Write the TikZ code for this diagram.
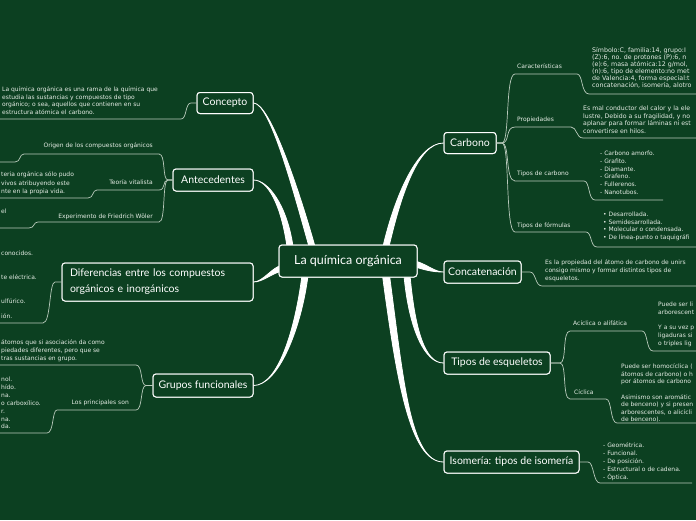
\documentclass[tikz,border=0pt]{standalone}
\usepackage{fontspec}
\setmainfont{DejaVu Sans}
\newfontfamily\handfont{Lato}
\usetikzlibrary{calc}
\definecolor{bg}{RGB}{12,64,33}
\definecolor{txt}{RGB}{228,236,228}
\definecolor{subc}{RGB}{185,202,188}
\newcommand\taper[5]{\filldraw[white,line width=0.8pt,line join=round] ($(#1)+(#2)$) .. controls ($(#3)+(#2)$) and (#4) .. (#5) .. controls (#4) and ($(#3)-(#2)$) .. ($(#1)-(#2)$) -- cycle;}
\begin{document}
\begin{tikzpicture}[x=1pt,y=-1pt,
  box/.style={draw=white, line width=1pt, fill=bg, rounded corners=3pt, text=white,
    font=\handfont\fontsize{10.5}{16}\selectfont, inner sep=0pt},
  lbl/.style={text=txt, font=\fontsize{6}{7.4}\selectfont, inner sep=0pt},
  blk/.style={lbl, align=left},
  subl/.style={draw=subc, line width=0.7pt},
]
\fill[bg] (0,0) rectangle (696,520);
\useasboundingbox (0,0) rectangle (696,520);
\clip (0,0) rectangle (696,520);

% nodes (placed first for anchors)
\node[box, minimum width=138pt, minimum height=32pt, font=\handfont\fontsize{12.5}{15}\selectfont] (main) at (348,261) {La química orgánica};
\node[box, minimum width=56pt, minimum height=21pt] (concepto) at (225,103) {Concepto};
\node[box, minimum width=80pt, minimum height=22pt] (antec) at (213,180) {Antecedentes};
\node[box, text width=175pt, inner xsep=8pt, minimum height=38pt, align=left] (dif) at (157.5,282) {Diferencias entre los compuestos\\orgánicos e inorgánicos};
\node[box, minimum width=100pt, minimum height=23pt] (grupos) at (203,385.5) {Grupos funcionales};
\node[box, minimum width=52pt, minimum height=21pt] (carbono) at (470,143) {Carbono};
\node[box, minimum width=77pt, minimum height=22pt] (concat) at (482.5,272) {Concatenación};
\node[box, minimum width=106pt, minimum height=22pt] (esq) at (497,363) {Tipos de esqueletos};
\node[box, minimum width=135pt, minimum height=22pt] (iso) at (511.5,462) {Isomería: tipos de isomería};

% main tapered connectors
\coordinate (s1) at ($(main.north)+(-36,2)$);
\coordinate (s2) at ($(main.north)+(-58,2)$);
\coordinate (s3) at ($(main.west)+(4,7)$);
\coordinate (s4) at ($(main.south)+(-43,-2)$);
\coordinate (s5) at ($(main.north)+(38,2)$);
\coordinate (s6) at ($(main.east)+(-2,3)$);
\coordinate (s7) at ($(main.south)+(59,-2)$);
\coordinate (s8) at ($(main.south)+(38,-2)$);
\taper{s1}{3,0}{296,190}{270,103}{concepto.east}
\taper{s2}{3,0}{284,205}{268,180}{antec.east}
\taper{s3}{0,3}{272,270}{263,282}{dif.east}
\taper{s4}{3,0}{298,330}{278,385.5}{grupos.east}
\taper{s5}{3,0}{398,195}{418,143}{carbono.west}
\taper{s6}{0,3}{428,268}{435,272}{concat.west}
\taper{s7}{3,0}{412,330}{425,363}{esq.west}
\taper{s8}{3.5,0}{400,380}{410,462}{iso.west}

% redraw boxes on top of the connectors
\node[box, minimum width=138pt, minimum height=32pt, font=\handfont\fontsize{12.5}{15}\selectfont] at (348,261) {La química orgánica};
\node[box, minimum width=56pt, minimum height=21pt] at (225,103) {Concepto};
\node[box, minimum width=80pt, minimum height=22pt] at (213,180) {Antecedentes};
\node[box, text width=175pt, inner xsep=8pt, minimum height=38pt, align=left] at (157.5,282) {Diferencias entre los compuestos\\orgánicos e inorgánicos};
\node[box, minimum width=100pt, minimum height=23pt] at (203,385.5) {Grupos funcionales};
\node[box, minimum width=52pt, minimum height=21pt] at (470,143) {Carbono};
\node[box, minimum width=77pt, minimum height=22pt] at (482.5,272) {Concatenación};
\node[box, minimum width=106pt, minimum height=22pt] at (497,363) {Tipos de esqueletos};
\node[box, minimum width=135pt, minimum height=22pt] at (511.5,462) {Isomería: tipos de isomería};

% ---------- Carbono ----------
\draw[subl] (carbono.east) -- (502,143) .. controls (510,143) and (505,74) .. (515,74) -- (577,74) .. controls (583,74) and (581,94) .. (589,94) -- (700,94);
\draw[subl] (carbono.east) -- (502,143) .. controls (510,143) and (505,127) .. (515,127) -- (571,127) .. controls (577,127) and (576,138) .. (583,138) -- (700,138);
\draw[subl] (carbono.east) -- (502,143) .. controls (510,143) and (505,181) .. (515,181) -- (584,181) .. controls (590,181) and (588,200) .. (595,200) -- (663,200);
\draw[subl] (carbono.east) -- (502,143) .. controls (510,143) and (505,232) .. (515,232) -- (586,232) .. controls (592,232) and (590,247) .. (597,247) -- (700,247);
\node[lbl, anchor=base west] (carac) at (517,68.7) {Características};
\node[lbl, anchor=base west] (prop) at (517,121.7) {Propiedades};
\node[lbl, anchor=base west] (tcarb) at (517,175.7) {Tipos de carbono};
\node[lbl, anchor=base west] (tform) at (517,227.7) {Tipos de fórmulas};
\node[blk, anchor=north west, font=\fontsize{6.3}{7}\selectfont] (caractxt) at (592,47.5) {Símbolo:C, familia:14, grupo:I\\(Z):6, no. de protones (P):6, n\\(e):6, masa atómica:12 g/mol,\\(n):6, tipo de elemento:no met\\de Valencia:4, forma especial:t\\concatenación, isomería, alotro};
\node[blk, anchor=north west, font=\fontsize{6.2}{7.5}\selectfont] (proptxt) at (583,105.8) {Es mal conductor del calor y la ele\\lustre, Debido a su fragilidad, y no\\aplanar para formar láminas ni est\\convertirse en hilos.};
\node[blk, anchor=north west, font=\fontsize{6}{7.8}\selectfont] (tcarbtxt) at (600,150.8) {- Carbono amorfo.\\- Grafito.\\- Diamante.\\- Grafeno.\\- Fullerenos.\\- Nanotubos.};
\node[blk, anchor=north west, font=\fontsize{6}{7.6}\selectfont] (tformtxt) at (603,211.8) {• Desarrollada.\\• Semidesarrollada.\\• Molecular o condensada.\\• De línea-punto o taquigráfi};

% ---------- Concatenación ----------
\draw[subl] (concat.east) -- (530,272) .. controls (536,272) and (535,286) .. (542,286) -- (700,286);
\node[blk, anchor=north west, font=\fontsize{6}{8}\selectfont] (concattxt) at (545,259.8) {Es la propiedad del átomo de carbono de unirs\\consigo mismo y formar distintos tipos de\\esqueletos.};

% ---------- Tipos de esqueletos ----------
\draw[subl] (esq.east) -- (560,363) .. controls (567,363) and (562,331) .. (570,331) -- (642,331) .. controls (648,331) and (646,351) .. (653,351) -- (700,351);
\draw[subl] (esq.east) -- (560,363) .. controls (567,363) and (562,399) .. (570,399) -- (606,399) .. controls (612,399) and (610,423) .. (617,423) -- (700,423);
\node[lbl, anchor=base west] (acic) at (573,325.7) {Acíclica o alifática};
\node[lbl, anchor=base west] (cicl) at (574,394.7) {Cíclica};
\node[blk, anchor=north west, font=\fontsize{6}{7.7}\selectfont] (acictxt) at (658,301.8) {Puede ser li\\arborescent\\[7.7pt]Y a su vez p\\ligaduras si\\o triples lig};
\node[blk, anchor=north west, font=\fontsize{6}{7.55}\selectfont] (cicltxt) at (621,363.8) {Puede ser homocíclica (\\átomos de carbono) o h\\por átomos de carbono\\[7.55pt]Asimismo son aromátic\\de benceno) y si presen\\arborescentes, o alicícli\\de benceno).};

% ---------- Isomería ----------
\draw[subl] (iso.east) -- (588,462) .. controls (594,462) and (593,483) .. (600,483) -- (692,483);
\node[blk, anchor=north west, font=\fontsize{6}{8}\selectfont] (isotxt) at (603,442.8) {- Geométrica.\\- Funcional.\\- De posición.\\- Estructural o de cadena.\\- Óptica.};

% ---------- Concepto ----------
\draw[subl] (concepto.west) -- (191,103) .. controls (185,103) and (187,119) .. (181,119) -- (-5,119);
\node[blk, anchor=north west, font=\fontsize{6}{7.4}\selectfont] (conctxt) at (2,86.8) {La química orgánica es una rama de la química que\\estudia las sustancias y compuestos de tipo\\orgánico; o sea, aquellos que contienen en su\\estructura atómica el carbono.};

% ---------- Antecedentes ----------
\draw[subl] (antec.west) -- (168,180) .. controls (162,180) and (166,154) .. (159,154) -- (24,154) .. controls (19,154) and (21,162) .. (15,162) -- (-5,162);
\draw[subl] (antec.west) -- (168,180) .. controls (162,180) and (166,190) .. (159,190) -- (97,190) .. controls (92,190) and (94,198) .. (88,198) -- (-5,198);
\draw[subl] (antec.west) -- (168,180) .. controls (162,180) and (166,222) .. (159,222) -- (38,222) .. controls (33,222) and (35,228) .. (29,228) -- (-5,228);
\node[lbl, anchor=base east] (origen) at (153,147.7) {Origen de los compuestos orgánicos};
\node[lbl, anchor=base east] (teoria) at (153,184.7) {Teoría vitalista};
\node[lbl, anchor=base east] (exper) at (153,218.7) {Experimento de Friedrich Wöler};
\node[blk, anchor=north west, font=\fontsize{6}{8.3}\selectfont] (teortxt) at (1,171.8) {teria orgánica sólo pudo\\vivos atribuyendo este\\nte en la propia vida.};
\node[lbl, anchor=base west] (expertxt) at (1,213.7) {el};

% ---------- Diferencias ----------
\draw[subl] (dif.west) -- (55,282) .. controls (49,282) and (51,323) .. (43,323) -- (-5,323);
\node[lbl, anchor=base west] (d1) at (1,255.7) {conocidos.};
\node[lbl, anchor=base west] (d2) at (1,279.7) {te eléctrica.};
\node[lbl, anchor=base west] (d3) at (1,303.7) {ulfúrico.};
\node[lbl, anchor=base west] (d4) at (1,318.7) {ión.};

% ---------- Grupos funcionales ----------
\draw[subl] (grupos.west) -- (146,385.5) .. controls (140,385.5) and (143,365) .. (136,365) -- (-5,365);
\draw[subl] (grupos.west) -- (146,385.5) .. controls (140,385.5) and (143,410) .. (136,410) -- (57,410) .. controls (52,410) and (54,433) .. (47,433) -- (-5,433);
\node[lbl, anchor=base east] (princ) at (129,404.7) {Los principales son};
\node[blk, anchor=north west, font=\fontsize{6}{8}\selectfont] (g1txt) at (1,339.8) {átomos que si asociación da como\\piedades diferentes, pero que se\\tras sustancias en grupo.};
\node[blk, anchor=north west, font=\fontsize{6}{7.9}\selectfont] (g2txt) at (1,376.8) {nol.\\hído.\\na.\\o carboxílico.\\r.\\na.\\da.};
\end{tikzpicture}
\end{document}
